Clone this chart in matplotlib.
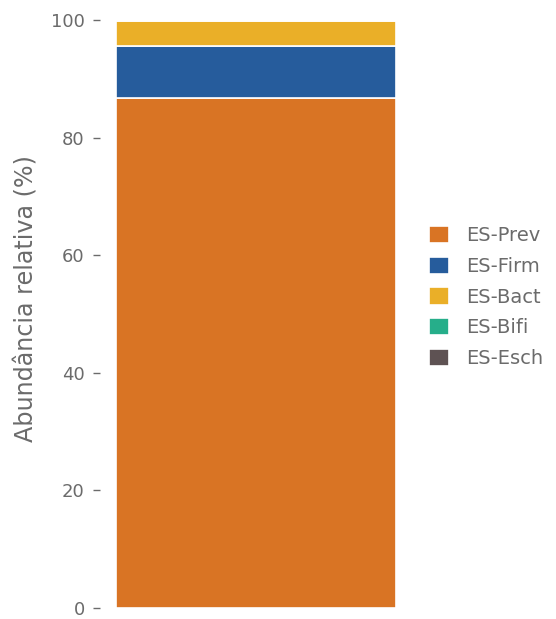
import matplotlib
matplotlib.use("Agg")
import matplotlib.pyplot as plt
import numpy as np

# relative abundance (%) per enterotype group
groups = ["ES-Prev", "ES-Firm", "ES-Bact", "ES-Bifi", "ES-Esch"]
values = [86.8, 8.7, 4.4, 0.05, 0.05]
colors = ["#D97424", "#265C9C", "#EAAF28", "#26AE8A", "#5E5253"]
grey = "#6b6b6b"

fig = plt.figure(figsize=(5.56, 6.19), dpi=100)
ax = fig.add_axes([0.18, 0.0178, 0.561, 0.95])

bottom = 0
for name, val, col in zip(groups, values, colors):
    ax.bar(0, val, width=0.9, bottom=bottom, color=col, edgecolor="white",
           linewidth=1.2, label=name)
    bottom += val

ax.set_xlim(-0.5, 0.5)
ax.set_ylim(0, 100)
ax.set_xticks([])
ax.set_yticks(np.arange(0, 101, 20))
for s in ax.spines.values():
    s.set_visible(False)
ax.tick_params(axis="y", colors=grey, labelsize=13, length=5, width=1, pad=6)
ax.set_ylabel("Abundância relativa (%)", color=grey, fontsize=17.2)
ax.yaxis.set_label_coords(-0.199, 0.526)

leg = ax.legend(loc="center left", bbox_to_anchor=(1.0, 0.529), frameon=False,
                fontsize=14, handlelength=1.0, handleheight=1.0,
                labelspacing=0.58, handletextpad=0.9)
for t in leg.get_texts():
    t.set_color(grey)

fig.savefig("out.png", dpi=100)
